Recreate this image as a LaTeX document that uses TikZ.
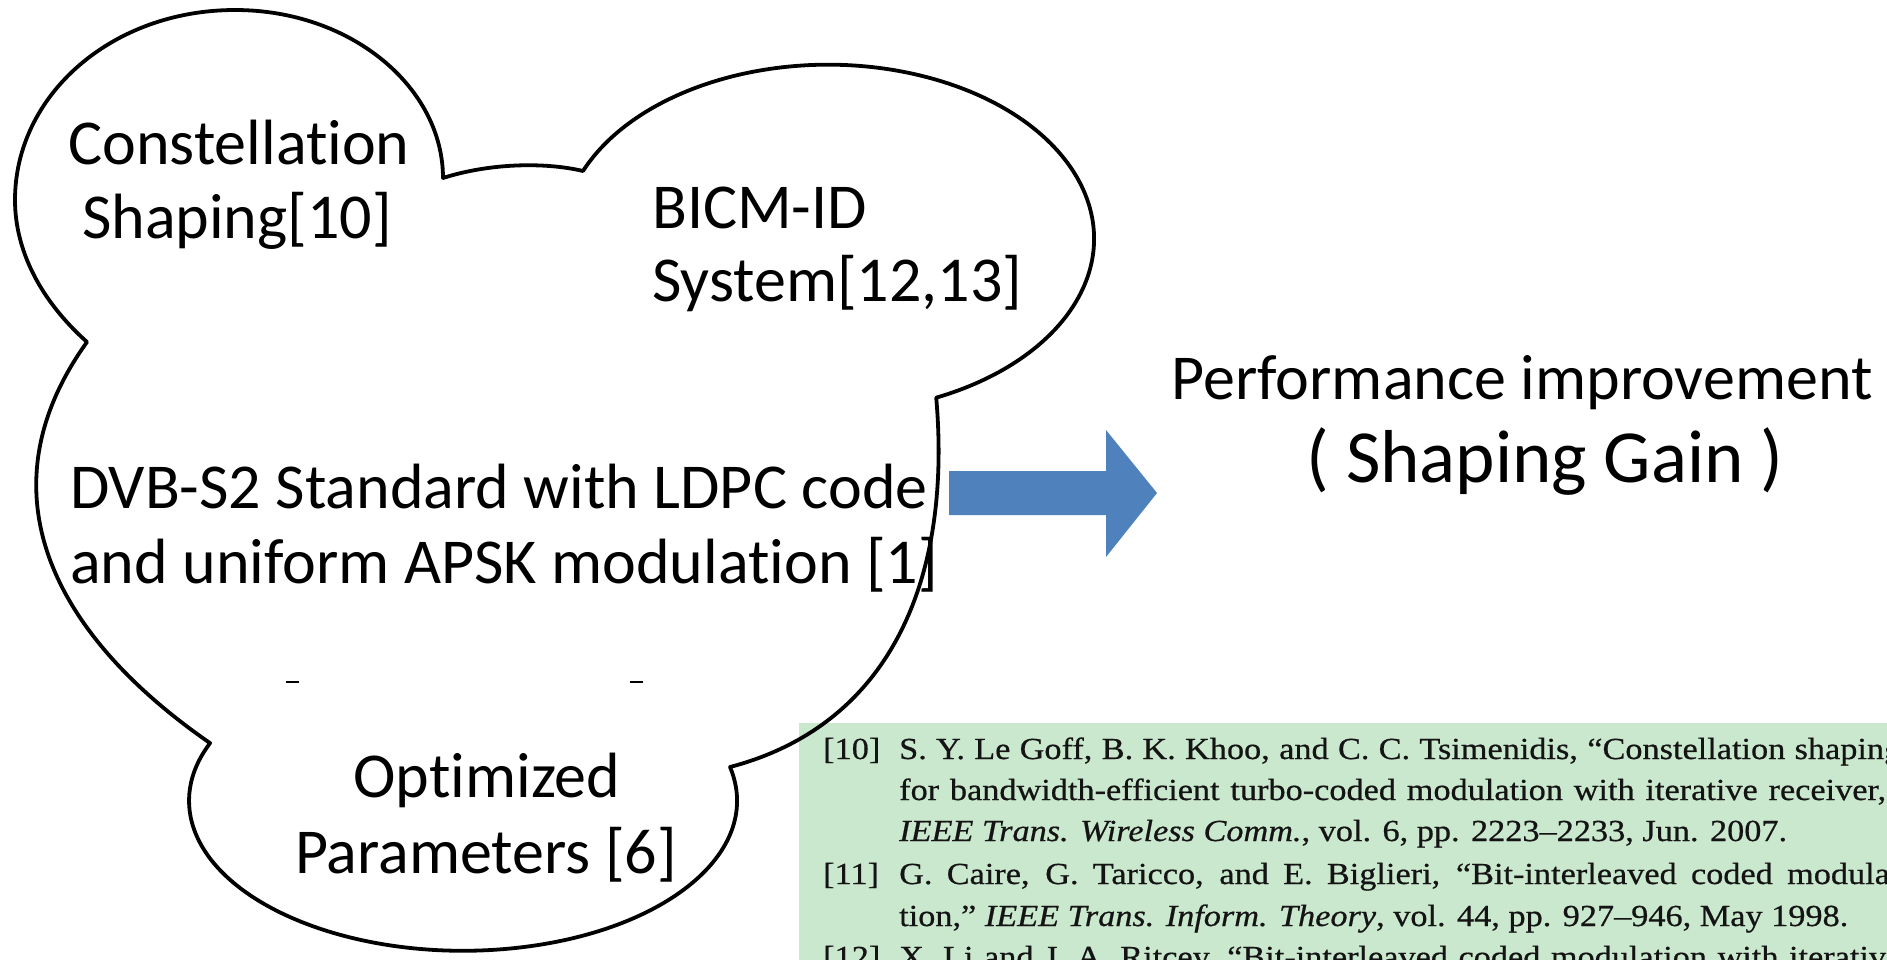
\documentclass[tikz,border=0pt]{standalone}
\usepackage{fontspec}
\setmainfont[Ligatures=NoCommon]{Carlito}
\newfontfamily\reffont[FakeStretch=1.12,FakeBold=0.6]{Liberation Serif}
\definecolor{arrowblue}{HTML}{4F81BD}
\definecolor{refgreen}{RGB}{202,232,206}
\definecolor{reftext}{RGB}{20,20,20}
\newcommand{\jline}[1]{\makebox[1002pt][s]{#1}}
\begin{document}
\begin{tikzpicture}[x=1pt,y=-1pt,
  cloud/.style={draw=black, line width=3.8pt, line join=round},
  big/.style={font=\fontsize{64}{74}\selectfont, inner sep=0pt},
  bigger/.style={font=\fontsize{75}{82}\selectfont, inner sep=0pt},
  reftxt/.style={font=\reffont\fontsize{30.6}{41}\selectfont, text=reftext, inner sep=0pt, anchor=base west},
  tick/.style={draw=black, line width=1.5pt}]
\useasboundingbox (0,0) rectangle (1887,959);
\fill[white] (0,0) rectangle (1887,959);

% reference box
\begin{scope}
\clip (0,0) rectangle (1887,959);
\fill[refgreen] (799,723) rectangle (1900,970);
\node[reftxt] (r10) at (823,759) {[10]};
\node[reftxt] (r10a) at (899,759) {\jline{S. Y. Le Goff, B. K. Khoo, and C. C. Tsimenidis, “Constellation shaping}};
\node[reftxt] (r10b) at (899,800) {\jline{for bandwidth-efficient turbo-coded modulation with iterative receiver,”}};
\node[reftxt] (r10c) at (899,841) {\textit{IEEE Trans. Wireless Comm.}, vol. 6, pp. 2223–2233, Jun. 2007.};
\node[reftxt] (r11) at (823,884) {[11]};
\node[reftxt] (r11a) at (899,884) {\jline{G. Caire, G. Taricco, and E. Biglieri, “Bit-interleaved coded modula-}};
\node[reftxt] (r11b) at (899,926) {tion,” \textit{IEEE Trans. Inform. Theory}, vol. 44, pp. 927–946, May 1998.};
\node[reftxt] (r12) at (823,967) {[12]};
\node[reftxt] (r12a) at (899,967) {\jline{X. Li and J. A. Ritcey, “Bit-interleaved coded modulation with iterative}};
\end{scope}

% block arrow
\fill[arrowblue] (949,471) -- (1106,471) -- (1106,430) -- (1157,493) -- (1106,557) -- (1106,515) -- (949,515) -- cycle;

% cloud outline
\draw[cloud] (87,342)
  .. controls (40,300) and (15,250) .. (15,200)
  .. controls (15,95) and (112,10) .. (235,10)
  .. controls (352,10) and (443,88) .. (443,178)
  .. controls (490,163) and (545,162) .. (583,171)
  arc[start angle=202.9, end angle=426, x radius=266, y radius=174]
  .. controls (952,580) and (890,725) .. (730,767)
  arc[start angle=-13, end angle=202.6, x radius=274, y radius=150]
  .. controls (48,631) and (-18,488) .. (87,342) -- cycle;

\draw[tick] (286,682) -- (299,682);
\draw[tick] (630,682) -- (643,682);

% texts
\node[big, anchor=base] (c1) at (239,164) {Constellation};
\node[big, anchor=base] (c2) at (237,238) {Shaping[10]};
\node[big, anchor=base west] (b1) at (652,228) {BICM-ID};
\node[big, anchor=base west] (b2) at (652,301) {System[12,13]};
\node[big, anchor=base west] (d1) at (70,508) {DVB-S2 Standard with LDPC code};
\node[big, anchor=base west] (d2) at (70,583) {and uniform APSK modulation [1]};
\node[big, anchor=base] (o1) at (487,797) {Optimized};
\node[big, anchor=base] (o2) at (486,873) {Parameters [6]};
\node[big, anchor=base] (p1) at (1522,399) {Performance improvement};
\node[bigger, anchor=base] (p2) at (1545,482) {( Shaping Gain )};
\end{tikzpicture}
\end{document}
